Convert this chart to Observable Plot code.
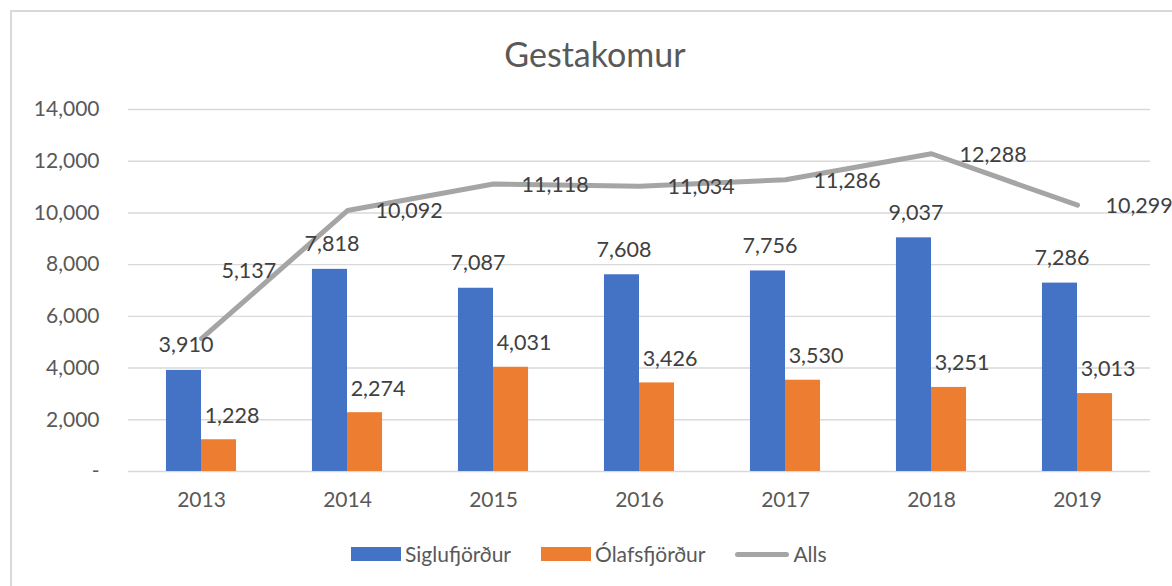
<!DOCTYPE html>
<html>
<head>
<meta charset="utf-8">
<script src="https://cdn.jsdelivr.net/npm/d3@7"></script>
<script src="https://cdn.jsdelivr.net/npm/@observablehq/plot@0.6"></script>
<style>
  html, body { margin: 0; padding: 0; background: #fff; overflow: hidden; }
  body { width: 1172px; height: 586px; position: relative; font-family: Lato, "Liberation Sans", sans-serif; color: #595959; }
  #frame { position: absolute; left: 10px; top: 10px; width: 1300px; height: 700px; border: 2px solid #d9d9d9; box-sizing: border-box; }
  #title { position: absolute; left: 0; width: 1190px; top: 33px; text-align: center; font-size: 34px; line-height: 42px; color: #595959; }
  #chart { position: absolute; left: 0; top: 0; }
  #legend { position: absolute; left: 351px; top: 540px; display: flex; align-items: center; font-size: 21px; line-height: 28px; color: #595959; }
  .item { display: flex; align-items: center; margin-right: 30px; }
  .sw { width: 50px; height: 14px; margin-right: 4px; }
  .ln { width: 54px; height: 5px; border-radius: 3px; margin-right: 4px; }
</style>
</head>
<body>
<div id="frame"></div>
<div id="chart"></div>
<div id="title">Gestakomur</div>
<div id="legend"></div>
<script>
const years = [2013, 2014, 2015, 2016, 2017, 2018, 2019];
const siglufjordur = [3910, 7818, 7087, 7608, 7756, 9037, 7286];
const olafsfjordur = [1228, 2274, 4031, 3426, 3530, 3251, 3013];
const alls = [5137, 10092, 11118, 11034, 11286, 12288, 10299];
const yTicks = [0, 2000, 4000, 6000, 8000, 10000, 12000, 14000];
const seriesNames = ["Siglufjörður", "Ólafsfjörður", "Alls"];
const colors = ["#4472C4", "#ED7D31", "#A5A5A5"];

const bw = 0.24; // bar width in year units
const fmt = d3.format(",");
const bars = [];
years.forEach((y, i) => {
  bars.push({year: y, series: seriesNames[0], value: siglufjordur[i], x1: y - bw, x2: y});
  bars.push({year: y, series: seriesNames[1], value: olafsfjordur[i], x1: y, x2: y + bw});
});
const blue = bars.filter(d => d.series === seriesNames[0]);
const orange = bars.filter(d => d.series === seriesNames[1]);
const total = years.map((y, i) => ({year: y, value: alls[i]}));

const font = "Lato, 'Liberation Sans', sans-serif";

const plot = Plot.plot({
  width: 1172,
  height: 586,
  marginLeft: 128,
  marginRight: 22,
  marginTop: 109,
  marginBottom: 115,
  style: {fontFamily: font, fontSize: "21px", color: "#595959", background: "transparent", overflow: "visible"},
  x: {type: "linear", domain: [2012.5, 2019.5]},
  y: {domain: [0, 14000]},
  marks: [
    Plot.ruleY(yTicks, {stroke: "#d9d9d9", strokeWidth: 1.4}),
    Plot.axisY({ticks: yTicks, tickSize: 0, tickPadding: 29, tickFormat: d => d === 0 ? "-" : fmt(d), label: null, fill: "#595959", fontSize: 21}),
    Plot.axisX({ticks: years, tickSize: 0, tickPadding: 21, tickFormat: d => String(d), label: null, fill: "#595959", fontSize: 21}),
    Plot.rectY(blue, {x1: "x1", x2: "x2", y: "value", fill: colors[0]}),
    Plot.rectY(orange, {x1: "x1", x2: "x2", y: "value", fill: colors[1]}),
    Plot.line(total, {x: "year", y: "value", stroke: colors[2], strokeWidth: 5, strokeLinecap: "round", strokeLinejoin: "round"}),
    Plot.text(blue, {x: d => (d.x1 + d.x2) / 2, y: "value", text: d => fmt(d.value), dy: -25, dx: 2, fill: "#404040", fontSize: 21.5}),
    Plot.text(orange, {x: d => (d.x1 + d.x2) / 2, y: "value", text: d => fmt(d.value), dy: -24, dx: 13, fill: "#404040", fontSize: 21.5}),
    Plot.text(total.slice(1), {x: "year", y: "value", text: d => fmt(d.value), textAnchor: "start", dx: 28, dy: 1, fill: "#404040", fontSize: 21.5}),
    Plot.text(total.slice(0, 1), {x: "year", y: "value", text: d => fmt(d.value), textAnchor: "start", dx: 20, dy: -68, fill: "#404040", fontSize: 21.5})
  ]
});
document.getElementById("chart").appendChild(plot);

const legend = document.getElementById("legend");
seriesNames.forEach((name, i) => {
  const item = document.createElement("div");
  item.className = "item";
  const sw = document.createElement("div");
  sw.className = i === 2 ? "ln" : "sw";
  sw.style.background = colors[i];
  const label = document.createElement("span");
  label.textContent = name;
  item.appendChild(sw);
  item.appendChild(label);
  legend.appendChild(item);
});
</script>
</body>
</html>
